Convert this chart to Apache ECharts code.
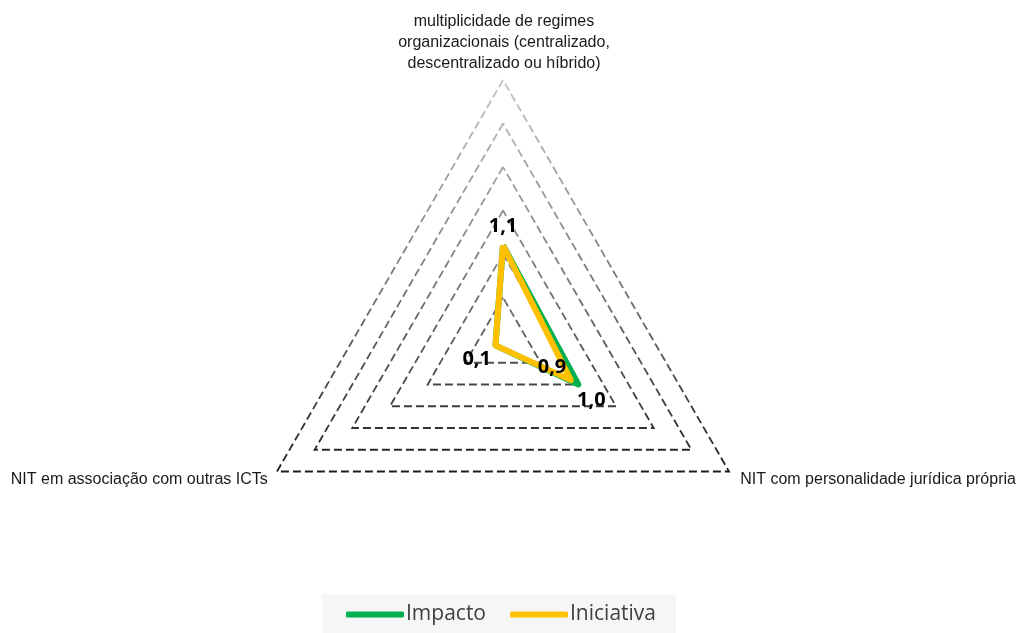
<!DOCTYPE html>
<html>
<head>
<meta charset="utf-8">
<script src="https://cdn.jsdelivr.net/npm/echarts@6/dist/echarts.min.js"></script>
<style>
  html, body { margin: 0; padding: 0; background: #ffffff; }
  #chart { width: 1018px; height: 633px; }
</style>
</head>
<body>
<div id="chart"></div>
<script>
// Radar axes (counter-clockwise from the top)
const indicatorNames = [
  'multiplicidade de regimes\norganizacionais (centralizado,\ndescentralizado ou híbrido)',
  'NIT em associação com outras ICTs',
  'NIT com personalidade jurídica própria'
];
const axisMax = 3;
const ringCount = 6;

// Series values, one per axis
const impacto = [1.1, 0.1, 1.0];
const iniciativa = [1.1, 0.1, 0.9];

const seriesNames = ['Impacto', 'Iniciativa'];
const seriesColors = ['#00B050', '#FFC000'];

const fmt = v => Number(v).toFixed(1).replace('.', ',');

// A label-only radar series showing the value of one axis
function labelSeries(values, dimIndex, position, offset) {
  return {
    type: 'radar',
    name: '_lbl' + dimIndex + position,
    data: [{ value: values }],
    symbol: 'circle',
    symbolSize: 1,
    lineStyle: { color: 'rgba(0,0,0,0)', width: 0 },
    itemStyle: { color: 'rgba(0,0,0,0)' },
    silent: true,
    z: 5,
    label: {
      show: true,
      position: position,
      offset: offset,
      distance: 4,
      color: '#000',
      opacity: 1,
      fontFamily: 'Open Sans',
      fontWeight: 'bold',
      fontSize: 20,
      formatter: p => (p.dimensionIndex === dimIndex ? fmt(p.value) : '')
    }
  };
}

const chart = echarts.init(document.getElementById('chart'));
chart.setOption({
  animation: false,
  color: seriesColors,
  legend: {
    data: seriesNames,
    left: 322,
    bottom: -8,
    backgroundColor: '#f6f6f6',
    padding: [10, 20, 16, 24],
    itemGap: 24,
    itemWidth: 58,
    itemHeight: 6,
    icon: 'roundRect',
    textStyle: { fontFamily: 'Open Sans', fontSize: 21, color: '#404040', padding: [0, 0, 0, -3] }
  },
  radar: {
    center: [503, 341],
    radius: 261,
    shape: 'polygon',
    startAngle: 90,
    splitNumber: ringCount,
    indicator: indicatorNames.map(n => ({ name: n, min: 0, max: axisMax })),
    axisName: {
      color: '#1a1a1a',
      fontFamily: 'Liberation Sans',
      fontSize: 16,
      lineHeight: 21,
      padding: [0, 4, 0, 6],
      // single-line names sit a little lower, below their corner
      formatter: name => (name.indexOf('\n') >= 0 ? name : '{gap| }\n' + name),
      rich: { gap: { fontSize: 1, lineHeight: 10 } }
    },
    nameGap: 6,
    axisLine: { show: false },
    axisTick: { show: false },
    axisLabel: { show: false },
    splitArea: { show: false },
    splitLine: {
      lineStyle: {
        width: 1.8,
        type: [8, 4],
        color: {
          type: 'linear', x: 0, y: 80, x2: 0, y2: 471, global: true,
          colorStops: [
            { offset: 0, color: '#c4c4c4' },
            { offset: 0.5, color: '#7a7a7a' },
            { offset: 1, color: '#1e1e1e' }
          ]
        }
      }
    }
  },
  series: [
    {
      type: 'radar',
      name: seriesNames[0],
      symbol: 'none',
      z: 2,
      lineStyle: { width: 6, color: seriesColors[0] },
      itemStyle: { color: seriesColors[0] },
      data: [{ value: impacto, name: seriesNames[0] }]
    },
    {
      type: 'radar',
      name: seriesNames[1],
      symbol: 'none',
      z: 3,
      lineStyle: { width: 6, color: seriesColors[1] },
      itemStyle: { color: seriesColors[1] },
      data: [{ value: iniciativa, name: seriesNames[1] }]
    },
    labelSeries(iniciativa, 0, 'top', [0, -5]),
    labelSeries(iniciativa, 1, 'left', [0, 14]),
    labelSeries(iniciativa, 2, 'left', [0, -13]),
    labelSeries(impacto, 2, 'bottom', [13, 1])
  ]
});
</script>
</body>
</html>
